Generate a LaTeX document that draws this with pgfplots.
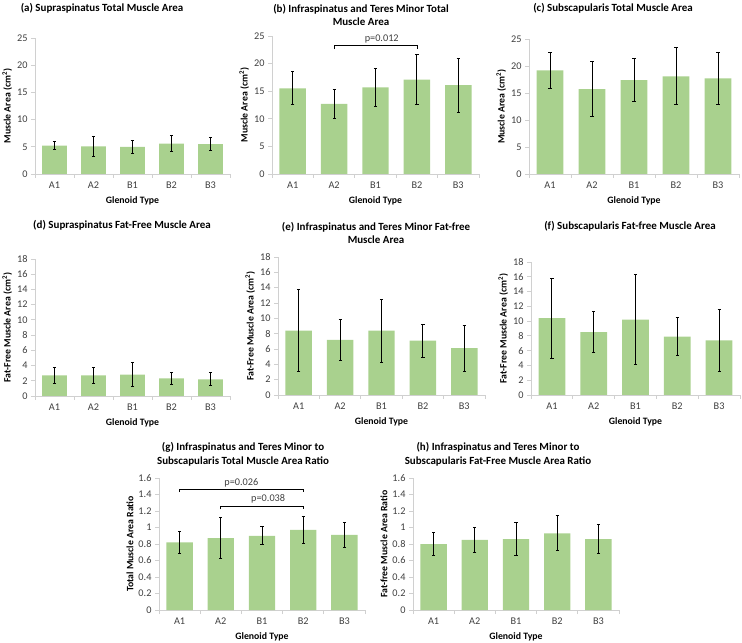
\documentclass[border=0pt]{standalone}
\usepackage{pgfplots}
\pgfplotsset{compat=1.18}
\usepackage{fontspec}
\setmainfont{Carlito}
\definecolor{barg}{HTML}{A9D18E}
\definecolor{axg}{HTML}{D0D0D0}
\definecolor{tkl}{HTML}{404040}

\pgfplotsset{
 panel/.style={
  scale only axis, anchor=south west, clip=false,
  xmin=-0.5, xmax=4.5, ymin=0,
  axis x line*=bottom, axis y line*=left,
  axis line style={draw=axg, line width=0.8pt},
  xtick={0,1,2,3,4}, xticklabels={A1,A2,B1,B2,B3},
  minor xtick={-0.5,0.5,1.5,2.5,3.5,4.5},
  every major x tick/.append style={draw=none},
  tick align=outside, major tick length=4bp, minor tick length=4bp,
  tick style={draw=axg, line width=0.8pt},
  ticklabel style={font=\fontsize{10.3}{11}\selectfont, text=tkl},
  /pgf/number format/assume math mode=true,
  xlabel={Glenoid Type},
  label style={font=\bfseries\fontsize{9.8}{11}\selectfont},
  xlabel style={yshift=-2bp},
  ylabel style={inner sep=1.5bp},
 },
 ebar/.style={ybar, bar width=0.64, fill=barg, draw=none,
   error bars/.cd, y dir=both, y explicit,
   error bar style={line width=1pt, black},
   error mark options={rotate=90, mark size=1.6bp, line width=1pt, black}},
 brk/.style={black, line width=0.8pt, forget plot},
}
\newcommand{\ttl}{\bfseries\fontsize{11}{14}\selectfont}
\newcommand{\pl}{\fontsize{10.3}{11}\selectfont}

\begin{document}
\begin{tikzpicture}
\useasboundingbox (0,0) rectangle (742bp,643bp);

% (a)
\begin{axis}[panel, at={(35bp,469bp)}, width=195bp, height=136bp,
  ymax=25, ytick={0,5,10,15,20,25}, ylabel={Muscle Area (cm\textsuperscript{2})}]
\addplot[ebar] table[x=x,y=y,y error=e] {
x y e
0 5.2 0.75
1 5.1 1.8
2 5.0 1.15
3 5.6 1.45
4 5.5 1.15
};
\end{axis}

% (b)
\begin{axis}[panel, at={(272bp,469bp)}, width=207bp, height=138bp,
  ymax=25, ytick={0,5,10,15,20,25}, ylabel={Muscle Area (cm\textsuperscript{2})}]
\addplot[ebar] table[x=x,y=y,y error=e] {
x y e
0 15.5 3.0
1 12.7 2.6
2 15.7 3.5
3 17.1 4.6
4 16.1 4.9
};
\addplot[brk] coordinates {(1,22.6) (1,23.3) (3,23.3) (3,22.6)};
\node[font=\pl, text=tkl, anchor=south] at (axis cs:2.15,23.1) {p=0.012};
\end{axis}

% (c)
\begin{axis}[panel, at={(529bp,469bp)}, width=210bp, height=135bp,
  ymax=25, ytick={0,5,10,15,20,25}, ylabel={Muscle Area (cm\textsuperscript{2})}]
\addplot[ebar] table[x=x,y=y,y error=e] {
x y e
0 19.2 3.3
1 15.7 5.1
2 17.4 3.9
3 18.1 5.3
4 17.7 4.8
};
\end{axis}

% (d)
\begin{axis}[panel, at={(35bp,247bp)}, width=195bp, height=137bp,
  ymax=18, ytick={0,2,...,18}, ylabel={Fat-Free Muscle Area (cm\textsuperscript{2})}]
\addplot[ebar] table[x=x,y=y,y error=e] {
x y e
0 2.7 1.1
1 2.7 1.0
2 2.8 1.6
3 2.3 0.8
4 2.2 0.85
};
\end{axis}

% (e)
\begin{axis}[panel, at={(278bp,248bp)}, width=207bp, height=138bp,
  ymax=18, ytick={0,2,...,18}, ylabel={Fat-Free Muscle Area (cm\textsuperscript{2})}]
\addplot[ebar] table[x=x,y=y,y error=e] {
x y e
0 8.4 5.3
1 7.2 2.65
2 8.4 4.1
3 7.1 2.15
4 6.1 3.0
};
\end{axis}

% (f)
\begin{axis}[panel, at={(531bp,248bp)}, width=209bp, height=133bp,
  ymax=18, ytick={0,2,...,18}, ylabel={Fat-Free Muscle Area (cm\textsuperscript{2})}]
\addplot[ebar] table[x=x,y=y,y error=e] {
x y e
0 10.4 5.4
1 8.5 2.75
2 10.2 6.1
3 7.9 2.6
4 7.4 4.2
};
\end{axis}

% (g)
\begin{axis}[panel, at={(159bp,33bp)}, width=206bp, height=132bp,
  ymax=1.6, ytick={0,0.2,0.4,0.6,0.8,1,1.2,1.4,1.6}, ylabel={Total Muscle Area Ratio}]
\addplot[ebar] table[x=x,y=y,y error=e] {
x y e
0 0.82 0.135
1 0.87 0.25
2 0.90 0.11
3 0.97 0.165
4 0.91 0.15
};
\addplot[brk] coordinates {(0,1.43) (0,1.46) (3,1.46) (3,1.43)};
\addplot[brk] coordinates {(1,1.22) (1,1.26) (3,1.26) (3,1.22)};
\node[font=\pl, text=tkl, anchor=south] at (axis cs:1.5,1.45) {p=0.026};
\node[font=\pl, text=tkl, anchor=south] at (axis cs:2.15,1.25) {p=0.038};
\end{axis}

% (h)
\begin{axis}[panel, at={(413bp,33bp)}, width=206bp, height=132bp,
  ymax=1.6, ytick={0,0.2,0.4,0.6,0.8,1,1.2,1.4,1.6}, ylabel={Fat-free Muscle Area Ratio}]
\addplot[ebar] table[x=x,y=y,y error=e] {
x y e
0 0.80 0.14
1 0.85 0.15
2 0.86 0.20
3 0.93 0.21
4 0.86 0.18
};
\end{axis}

% titles
\node[font=\ttl] at (102bp,635bp) {(a) Supraspinatus Total Muscle Area};
\node[font=\ttl, align=center] at (361bp,628bp) {(b) Infraspinatus and Teres Minor Total\\Muscle Area};
\node[font=\ttl] at (613bp,635bp) {(c) Subscapularis Total Muscle Area};
\node[font=\ttl] at (122bp,418bp) {(d) Supraspinatus Fat-Free Muscle Area};
\node[font=\ttl, align=center] at (376bp,410bp) {(e) Infraspinatus and Teres Minor Fat-free\\Muscle Area};
\node[font=\ttl] at (630bp,417bp) {(f) Subscapularis Fat-free Muscle Area};
\node[font=\ttl, align=center] at (243bp,189bp) {(g) Infraspinatus and Teres Minor to\\Subscapularis Total Muscle Area Ratio};
\node[font=\ttl, align=center] at (498bp,189bp) {(h) Infraspinatus and Teres Minor to\\Subscapularis Fat-Free Muscle Area Ratio};
\end{tikzpicture}
\end{document}
